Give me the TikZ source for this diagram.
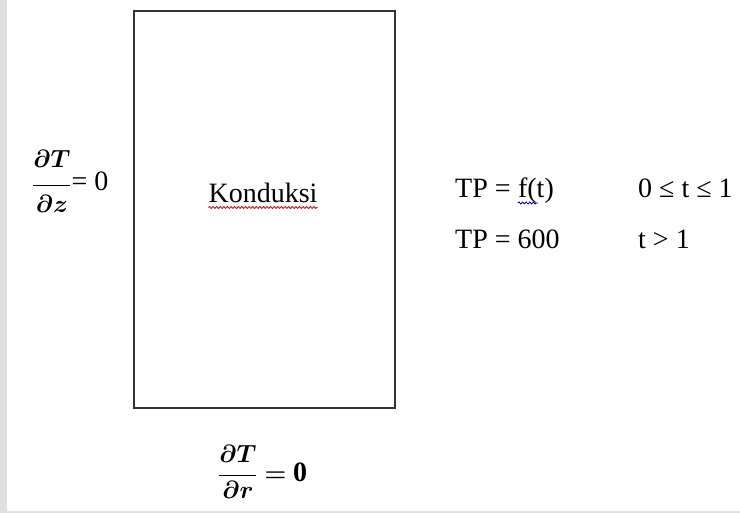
\documentclass[tikz,border=0pt]{standalone}
\usepackage{bm}
\usepackage{fontspec}
\setmainfont{Liberation Serif}
\usetikzlibrary{decorations.pathmorphing}
\newcommand{\eqz}{\fontsize{28}{32}\selectfont= 0}
\begin{document}
\begin{tikzpicture}[x=1pt,y=-1pt,
  txt/.style={inner sep=0pt, font=\fontsize{28}{32}\selectfont},
  mth/.style={inner sep=0pt, font=\fontsize{31}{36}\selectfont},
  wavy/.style={decorate, decoration={snake, amplitude=1pt, segment length=3.6pt}, line width=0.8pt}]
\useasboundingbox (0,0) rectangle (740,513);
\fill[black!12] (0,0) rectangle (7,513);
\fill[black!12] (7,511) rectangle (740,513);
\node[draw=black!80, line width=1.6pt, minimum width=261pt, minimum height=397pt, anchor=north west, inner sep=0pt] (box) at (133,10) {};
\node[txt, anchor=base] (kon) at (263,203) {Konduksi};
\draw[red!85!black, wavy] ([yshift=-4.5pt]kon.base west) -- ([yshift=-4.5pt]kon.base east);
\node[mth, anchor=base west] (bz) at (32,191) {$\displaystyle\frac{\raisebox{7pt}{$\bm{\partial T}$}}{\raisebox{-4pt}{$\bm{\partial z}$}}$\eqz};
\node[mth, anchor=base west, font=\fontsize{28}{33}\selectfont] (br) at (218,481) {$\displaystyle\frac{\raisebox{2pt}{$\bm{\partial T}$}}{\bm{\partial r}}\bm{=}\mathbf{0}$};
\node[txt, anchor=base west] (tp1) at (455,198) {TP =};
\node[txt, anchor=base west] (ft) at ([xshift=7pt]tp1.base east) {f(t)};
\draw[blue!70!black, wavy] ([yshift=-5pt]ft.base west) -- ([xshift=20pt,yshift=-5pt]ft.base west);
\node[txt, anchor=base west] (c1) at (638,198) {0 ≤ t ≤ 1};
\node[txt, anchor=base west] (tp2) at (455,249) {TP = 600};
\node[txt, anchor=base west] (c2) at (638,249) {t > 1};
\end{tikzpicture}
\end{document}
